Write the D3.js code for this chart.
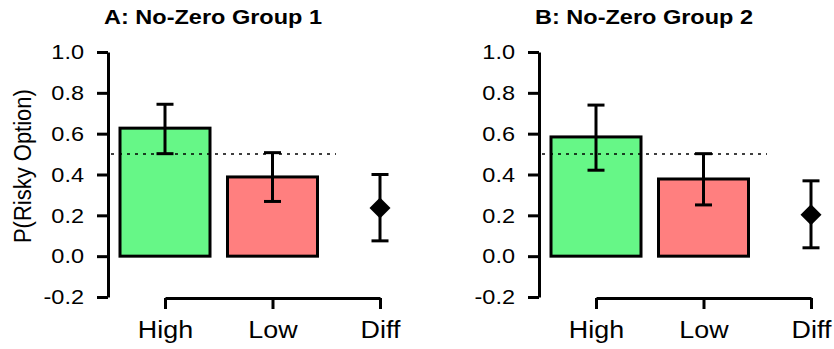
<!DOCTYPE html>
<html>
<head>
<meta charset="utf-8">
<script src="https://cdn.jsdelivr.net/npm/d3@7"></script>
<style>
  body { margin: 0; background: #fff; }
  svg { display: block; font-family: "Liberation Sans", Arial, sans-serif; }
  .axis path, .axis line { stroke: #000; stroke-width: 3px; }
  .axis text { fill: #000; font-size: 21px; }
</style>
</head>
<body>
<svg id="chart" width="834" height="349"></svg>
<script>
// data
const categories = ['High', 'Low', 'Diff'];
const panelTitles = ['A: No-Zero Group 1', 'B: No-Zero Group 2'];
const yTicks = [-0.2, 0, 0.2, 0.4, 0.6, 0.8, 1.0];

const meanA = [0.627, 0.388, 0.236];
const lowerA = [0.502, 0.268, 0.075];
const upperA = [0.744, 0.507, 0.400];

const meanB = [0.584, 0.378, 0.203];
const lowerB = [0.421, 0.251, 0.041];
const upperB = [0.740, 0.502, 0.369];

const chance = 0.5;
const barColors = ['#66f787', '#ff7f7f'];

const panels = [
  { title: panelTitles[0], mean: meanA, lower: lowerA, upper: upperA, dx: 0 },
  { title: panelTitles[1], mean: meanB, lower: lowerB, upper: upperB, dx: 431 }
];

// the source figure is a bit wider than tall, so glyphs get a horizontal stretch
const sx = 1.12;

const svg = d3.select('#chart');

const y = d3.scaleLinear().domain([-0.2, 1.0]).range([297, 52]);
const x = d3.scalePoint().domain(categories).range([165, 380]);
const barW = 90, capW = 17;
const fmt = d3.format('.1f');

panels.forEach((p, pi) => {
  const g = svg.append('g').attr('transform', `translate(${p.dx},0)`);

  // y axis
  g.append('g').attr('class', 'axis')
    .attr('transform', 'translate(108,0)')
    .call(d3.axisLeft(y).tickValues(yTicks).tickSize(11).tickSizeOuter(0).tickPadding(0))
    .call(a => a.selectAll('.tick text')
      .attr('x', null)
      .attr('transform', `translate(-24,0) scale(${sx},1)`)
      .text(d => fmt(d).replace('−', '-')));

  // x axis
  g.append('g').attr('class', 'axis')
    .attr('transform', 'translate(0,298)')
    .call(d3.axisBottom(x).tickSize(11).tickSizeOuter(0).tickPadding(12))
    .call(a => a.selectAll('.tick text')
      .style('font-size', '24px')
      .attr('transform', `scale(${sx},1)`));

  // bars (High, Low)
  const bars = categories.slice(0, 2);
  g.selectAll('rect.bar').data(bars).join('rect')
    .attr('class', 'bar')
    .attr('x', d => x(d) - barW / 2)
    .attr('width', barW)
    .attr('y', (d, i) => y(p.mean[i]))
    .attr('height', (d, i) => y(0) - y(p.mean[i]))
    .attr('fill', (d, i) => barColors[i])
    .attr('stroke', '#000')
    .attr('stroke-width', 3);

  // chance line
  g.append('line')
    .attr('x1', 111).attr('x2', 336)
    .attr('y1', y(chance)).attr('y2', y(chance))
    .attr('stroke', '#000').attr('stroke-width', 1.5)
    .attr('stroke-dasharray', '3,5');

  // error bars
  const eb = g.selectAll('g.err').data(categories).join('g').attr('class', 'err');
  eb.append('line')
    .attr('x1', d => x(d)).attr('x2', d => x(d))
    .attr('y1', (d, i) => y(p.lower[i])).attr('y2', (d, i) => y(p.upper[i]));
  eb.append('line')
    .attr('x1', d => x(d) - capW / 2).attr('x2', d => x(d) + capW / 2)
    .attr('y1', (d, i) => y(p.lower[i])).attr('y2', (d, i) => y(p.lower[i]));
  eb.append('line')
    .attr('x1', d => x(d) - capW / 2).attr('x2', d => x(d) + capW / 2)
    .attr('y1', (d, i) => y(p.upper[i])).attr('y2', (d, i) => y(p.upper[i]));
  eb.selectAll('line').attr('stroke', '#000').attr('stroke-width', 3);

  // difference point
  g.append('path')
    .attr('d', d3.symbol(d3.symbolSquare, 220)())
    .attr('transform', `translate(${x('Diff')},${y(p.mean[2])}) rotate(45)`)
    .attr('fill', '#000');

  // title
  g.append('text')
    .attr('transform', `translate(213,24) scale(${sx},1)`)
    .attr('text-anchor', 'middle')
    .style('font-size', '21px').style('font-weight', 'bold')
    .text(p.title);

  if (pi === 0) {
    g.append('text')
      .attr('transform', `translate(31,${(y(0) + y(1)) / 2 + 12}) rotate(-90) scale(1,${sx})`)
      .attr('text-anchor', 'middle')
      .style('font-size', '22px')
      .text('P(Risky Option)');
  }
});
</script>
</body>
</html>
